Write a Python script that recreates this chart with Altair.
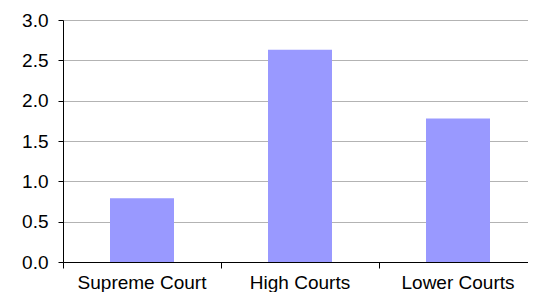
import altair as alt
import pandas as pd

categories = ["Supreme Court", "High Courts", "Lower Courts"]
values = [0.79, 2.63, 1.78]
y_ticks = [0.0, 0.5, 1.0, 1.5, 2.0, 2.5, 3.0]

df = pd.DataFrame({"court": categories, "value": values})

FONT = "Liberation Sans"

chart = (
    alt.Chart(df)
    .mark_bar(color="#9999FF", width=alt.RelativeBandSize(0.405))
    .encode(
        x=alt.X(
            "court:N",
            sort=categories,
            title=None,
            scale=alt.Scale(paddingInner=0, paddingOuter=0, range=[0, 474]),
            axis=alt.Axis(
                bandPosition=0,
                labelAngle=0,
                labelFont=FONT,
                labelFontSize=19,
                labelColor="#000000",
                labelPadding=5,
                domainColor="#000000",
                tickColor="#000000",
                tickSize=6,
                grid=False,
            ),
        ),
        y=alt.Y(
            "value:Q",
            title=None,
            scale=alt.Scale(domain=[0, 3], nice=False),
            axis=alt.Axis(
                values=y_ticks,
                format=".1f",
                labelFont=FONT,
                labelFontSize=19,
                labelColor="#000000",
                labelPadding=10,
                domainColor="#000000",
                tickColor="#000000",
                tickSize=5,
                gridColor="#b3b3b3",
            ),
        ),
    )
    .properties(
        width=465,
        height=242,
        autosize="none",
        padding={"left": 55, "top": 12, "right": 0, "bottom": 30},
    )
    .configure_view(stroke=None)
)

chart.save("out.html", embed_options={"renderer": "svg", "actions": False})
